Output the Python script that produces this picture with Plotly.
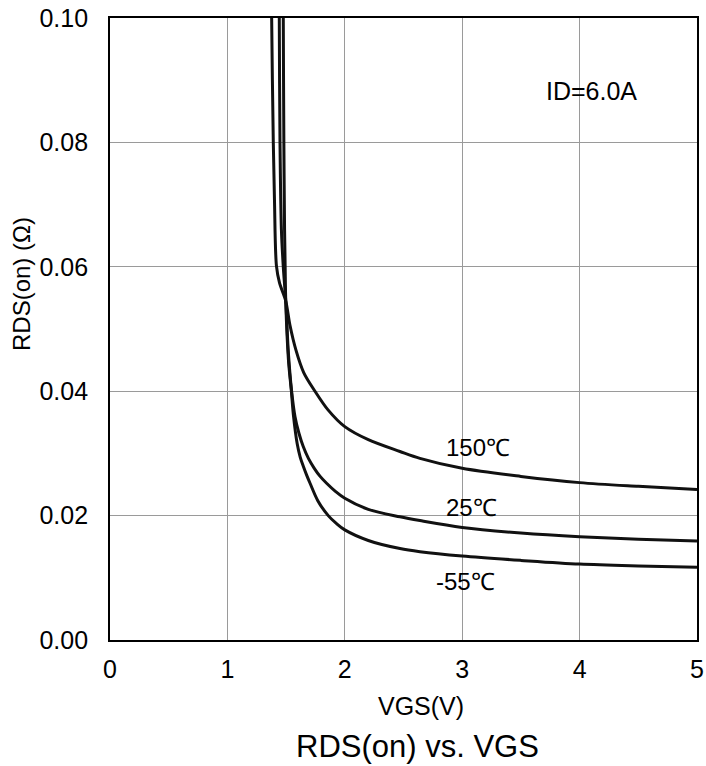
import plotly.graph_objects as go

# VGS (V) / RDS(on) (ohm)
vgs_150 = [1.374, 1.377, 1.391, 1.401, 1.418, 1.444, 1.497, 1.533, 1.584, 1.650, 1.746, 1.857, 2.000, 2.200, 2.470, 2.640, 3.000, 3.500, 4.000, 4.500, 5.000]
rds_150 = [0.110, 0.100, 0.080, 0.0707, 0.0601, 0.0574, 0.0545, 0.0506, 0.0466, 0.0430, 0.0400, 0.0370, 0.0343, 0.0322, 0.0303, 0.0292, 0.0276, 0.0263, 0.0253, 0.0247, 0.0242]

vgs_25 = [1.440, 1.442, 1.448, 1.460, 1.476, 1.497, 1.520, 1.547, 1.576, 1.610, 1.646, 1.690, 1.740, 1.790, 1.845, 1.920, 2.000, 2.200, 2.470, 2.640, 3.000, 3.500, 4.000, 4.500, 5.000]
rds_25 = [0.110, 0.100, 0.080, 0.066, 0.060, 0.0545, 0.0460, 0.0400, 0.0359, 0.0332, 0.0311, 0.0292, 0.0276, 0.0263, 0.0252, 0.0239, 0.0228, 0.0210, 0.0198, 0.0192, 0.0181, 0.0172, 0.0166, 0.0162, 0.0159]

vgs_m55 = [1.475, 1.476, 1.481, 1.487, 1.492, 1.497, 1.520, 1.545, 1.562, 1.595, 1.620, 1.645, 1.675, 1.704, 1.770, 1.859, 1.930, 2.000, 2.200, 2.470, 2.640, 3.000, 3.500, 4.000, 4.500, 5.000]
rds_m55 = [0.110, 0.100, 0.080, 0.066, 0.060, 0.0545, 0.0450, 0.0400, 0.0362, 0.0315, 0.0294, 0.0280, 0.0265, 0.0252, 0.0224, 0.0200, 0.0187, 0.0177, 0.0160, 0.0147, 0.0142, 0.0135, 0.0128, 0.0122, 0.0119, 0.0117]

x_ticks = [0, 1, 2, 3, 4, 5]
y_ticks = [0.00, 0.02, 0.04, 0.06, 0.08, 0.10]
y_tick_text = ["0.00", "0.02", "0.04", "0.06", "0.08", "0.10"]

FONT = "Liberation Sans, Arial, sans-serif"
W, H = 706, 766
L, R, T, B = 110, 9, 18, 126

fig = go.Figure()
for xs, ys in [(vgs_150, rds_150), (vgs_25, rds_25), (vgs_m55, rds_m55)]:
    fig.add_trace(go.Scatter(x=xs, y=ys, mode="lines",
                             line=dict(color="#111111", width=3, shape="spline", smoothing=0.9),
                             showlegend=False, hoverinfo="skip"))

fig.update_layout(
    width=W, height=H,
    margin=dict(l=L, r=R, t=T, b=B, autoexpand=False),
    paper_bgcolor="white", plot_bgcolor="white",
    font=dict(family=FONT, color="#000000"),
    showlegend=False,
)
fig.update_xaxes(range=[0, 5], tickvals=x_ticks, ticktext=[str(v) for v in x_ticks],
                 showgrid=True, gridcolor="#9a9a9a", gridwidth=1.4,
                 showline=True, linecolor="#000000", linewidth=1.8, mirror=True,
                 ticks="", tickfont=dict(size=25, family=FONT), ticklabelstandoff=6,
                 zeroline=False, automargin=False)
fig.update_yaxes(range=[0, 0.1], tickvals=y_ticks, ticktext=y_tick_text,
                 showgrid=True, gridcolor="#9a9a9a", gridwidth=1.4,
                 showline=True, linecolor="#000000", linewidth=1.8, mirror=True,
                 ticks="", tickfont=dict(size=25, family=FONT), ticklabelstandoff=15,
                 zeroline=False, automargin=False)

pw, ph = W - L - R, H - T - B
ann = [
    dict(x=444, y=447, text="150℃", size=24, anchor="left"),
    dict(x=444, y=507, text="25℃", size=24, anchor="left"),
    dict(x=434, y=581, text="-55℃", size=24, anchor="left"),
    dict(x=544, y=91, text="ID=6.0A", size=25, anchor="left"),
    dict(x=421, y=706, text="VGS(V)", size=25, anchor="center"),
    dict(x=417, y=746, text="RDS(on) vs. VGS", size=31, anchor="center"),
]
for a in ann:
    fig.add_annotation(x=(a["x"] - L) / pw, y=(H - B - a["y"]) / ph, xref="paper", yref="paper",
                       text=a["text"], showarrow=False, xanchor=a["anchor"], yanchor="middle",
                       font=dict(size=a["size"], family=FONT, color="#000000"))
fig.add_annotation(x=(22 - L) / pw, y=(H - B - 284) / ph, xref="paper", yref="paper",
                   text="RDS(on) (Ω)", textangle=-90, showarrow=False,
                   xanchor="center", yanchor="middle",
                   font=dict(size=24, family=FONT, color="#000000"))

fig.write_html("out.html", config={"displayModeBar": False},
               post_script="document.body.style.margin='0px';")
